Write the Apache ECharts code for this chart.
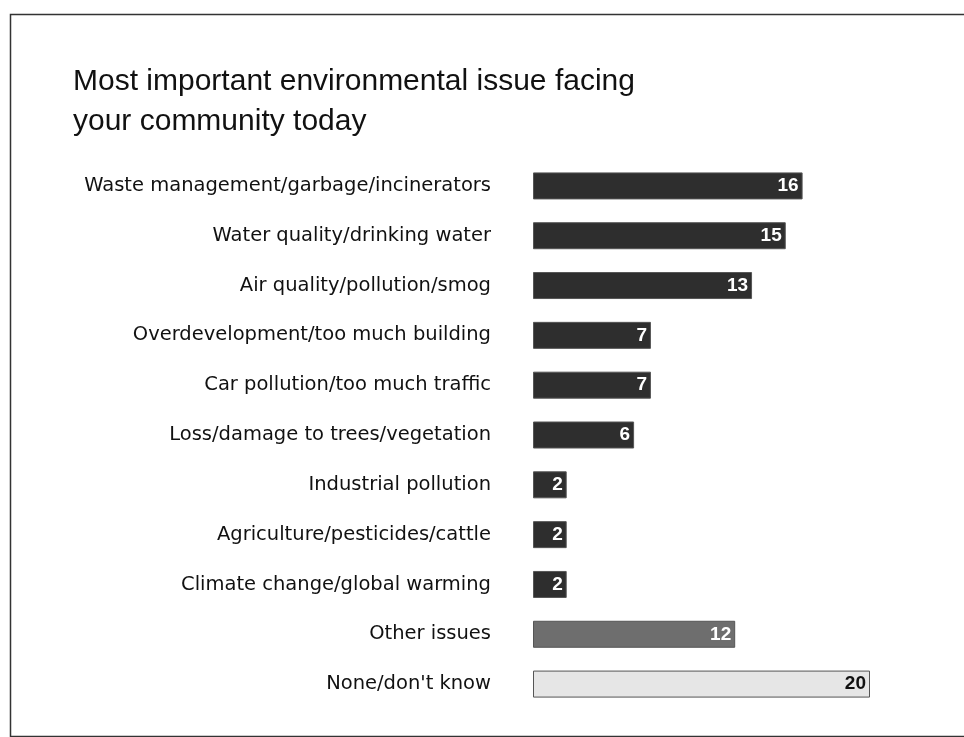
<!DOCTYPE html>
<html>
<head>
<meta charset="utf-8">
<script src="https://cdn.jsdelivr.net/npm/echarts@6/dist/echarts.min.js"></script>
<style>html,body{margin:0;padding:0;background:#fff}#c{width:964px;height:737px}</style>
</head>
<body>
<div id="c"></div>
<script>
const categories = [
  "Waste management/garbage/incinerators",
  "Water quality/drinking water",
  "Air quality/pollution/smog",
  "Overdevelopment/too much building",
  "Car pollution/too much traffic",
  "Loss/damage to trees/vegetation",
  "Industrial pollution",
  "Agriculture/pesticides/cattle",
  "Climate change/global warming",
  "Other issues",
  "None/don't know"
];
const values = [16, 15, 13, 7, 7, 6, 2, 2, 2, 12, 20];
const barColors = ["#2e2e2e","#2e2e2e","#2e2e2e","#2e2e2e","#2e2e2e","#2e2e2e","#2e2e2e","#2e2e2e","#2e2e2e","#6e6e6e","#e6e6e6"];
const labelColors = ["#fff","#fff","#fff","#fff","#fff","#fff","#fff","#fff","#fff","#fff","#111"];

const chart = echarts.init(document.getElementById('c'));
chart.setOption({
  animation: false,
  backgroundColor: '#fff',
  graphic: [{
    type: 'rect', left: 8, top: 12,
    shape: { width: 980, height: 722 },
    style: { fill: 'none', stroke: '#333', lineWidth: 1.5 }
  }],
  title: {
    text: 'Most important environmental issue facing\nyour community today',
    left: 68, top: 57,
    textStyle: { fontFamily: 'Liberation Sans', fontSize: 30, fontWeight: 'normal', color: '#111', lineHeight: 40 }
  },
  grid: { left: 533, top: 161, width: 337, height: 548, containLabel: false },
  xAxis: { type: 'value', min: 0, max: 20, show: false },
  yAxis: {
    type: 'category', inverse: true, data: categories,
    axisLine: { show: false }, axisTick: { show: false },
    axisLabel: { margin: 42, fontFamily: 'DejaVu Sans', fontSize: 19.5, color: '#111' }
  },
  series: [{
    type: 'bar',
    barWidth: 27,
    data: values.map((v, i) => ({
      value: v,
      itemStyle: { color: barColors[i], borderColor: '#555', borderWidth: 1 },
      label: { color: labelColors[i] }
    })),
    label: {
      show: true, position: 'insideRight', distance: 4,
      fontFamily: 'Liberation Sans', fontSize: 19, fontWeight: 'bold'
    }
  }]
});
</script>
</body>
</html>
